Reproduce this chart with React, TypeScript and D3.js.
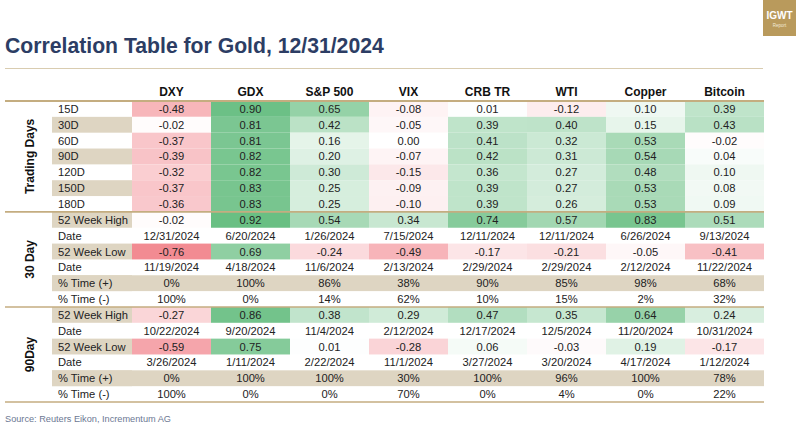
import React from "react";
import * as d3 from "d3";

const columns = ["DXY", "GDX", "S&P 500", "VIX", "CRB TR", "WTI", "Copper", "Bitcoin"];

const tradingDayLabels = ["15D", "30D", "60D", "90D", "120D", "150D", "180D"];
const tradingDayValues = [
  [-0.48, 0.9, 0.65, -0.08, 0.01, -0.12, 0.1, 0.39],
  [-0.02, 0.81, 0.42, -0.05, 0.39, 0.4, 0.15, 0.43],
  [-0.37, 0.81, 0.16, 0.0, 0.41, 0.32, 0.53, -0.02],
  [-0.39, 0.82, 0.2, -0.07, 0.42, 0.31, 0.54, 0.04],
  [-0.32, 0.82, 0.3, -0.15, 0.36, 0.27, 0.48, 0.1],
  [-0.37, 0.83, 0.25, -0.09, 0.39, 0.27, 0.53, 0.08],
  [-0.36, 0.83, 0.25, -0.1, 0.39, 0.26, 0.53, 0.09],
];

const d30High = [-0.02, 0.92, 0.54, 0.34, 0.74, 0.57, 0.83, 0.51];
const d30HighDate = ["12/31/2024", "6/20/2024", "1/26/2024", "7/15/2024", "12/11/2024", "12/11/2024", "6/26/2024", "9/13/2024"];
const d30Low = [-0.76, 0.69, -0.24, -0.49, -0.17, -0.21, -0.05, -0.41];
const d30LowDate = ["11/19/2024", "4/18/2024", "11/6/2024", "2/13/2024", "2/29/2024", "2/29/2024", "2/12/2024", "11/22/2024"];
const d30PosPct = [0, 100, 86, 38, 90, 85, 98, 68];
const d30NegPct = [100, 0, 14, 62, 10, 15, 2, 32];

const d90High = [-0.27, 0.86, 0.38, 0.29, 0.47, 0.35, 0.64, 0.24];
const d90HighDate = ["10/22/2024", "9/20/2024", "11/4/2024", "2/12/2024", "12/17/2024", "12/5/2024", "11/20/2024", "10/31/2024"];
const d90Low = [-0.59, 0.75, 0.01, -0.28, 0.06, -0.03, 0.19, -0.17];
const d90LowDate = ["3/26/2024", "1/11/2024", "2/22/2024", "11/1/2024", "3/27/2024", "3/20/2024", "4/17/2024", "1/12/2024"];
const d90PosPct = [0, 100, 100, 30, 100, 96, 100, 78];
const d90NegPct = [100, 0, 0, 70, 0, 4, 0, 22];

const sectionNames = ["Trading Days", "30 Day", "90Day"];

type Row = { label: string; cells: string[]; values?: number[]; tanLabel: boolean; tanRow: boolean };

const fmt = (v: number) => v.toFixed(2);
const pct = (v: number) => `${v}%`;

function windowRows(high: number[], highDate: string[], low: number[], lowDate: string[], pos: number[], neg: number[]): Row[] {
  return [
    { label: "52 Week High", cells: high.map(fmt), values: high, tanLabel: true, tanRow: false },
    { label: "Date", cells: highDate, tanLabel: false, tanRow: false },
    { label: "52 Week Low", cells: low.map(fmt), values: low, tanLabel: true, tanRow: false },
    { label: "Date", cells: lowDate, tanLabel: false, tanRow: false },
    { label: "% Time (+)", cells: pos.map(pct), tanLabel: true, tanRow: true },
    { label: "% Time (-)", cells: neg.map(pct), tanLabel: false, tanRow: false },
  ];
}

const sections: Row[][] = [
  tradingDayLabels.map((l, i) => ({
    label: l,
    cells: tradingDayValues[i].map(fmt),
    values: tradingDayValues[i],
    tanLabel: i % 2 === 1,
    tanRow: false,
  })),
  windowRows(d30High, d30HighDate, d30Low, d30LowDate, d30PosPct, d30NegPct),
  windowRows(d90High, d90HighDate, d90Low, d90LowDate, d90PosPct, d90NegPct),
];

const W = 800;
const H = 428;
const TAN = "#ded5c2";
const LINE = "#c4ad80";
const FONT = "'Liberation Sans', Arial, sans-serif";

export default function App() {
  const allRows = sections.flat();
  const x = d3.scaleBand<string>().domain(columns).range([132, 764]);
  const y = d3.scaleBand<number>().domain(d3.range(allRows.length)).range([101, 402]);
  const color = d3
    .scaleLinear<string>()
    .domain([-1, 0, 1])
    .range(["#ee6670", "#ffffff", "#5cb978"])
    .interpolate(d3.interpolateRgb);

  let start = 0;
  const sectionSpans = sections.map((s) => {
    const span = { start, end: start + s.length };
    start += s.length;
    return span;
  });

  const rowH = y.bandwidth();
  const labelX0 = 52;

  return (
    <svg width={W} height={H} style={{ position: "absolute", left: 0, top: 0, background: "#fff" }} fontFamily={FONT}>
      <rect x={0} y={0} width={W} height={H} fill="#fff" />
      {/* title */}
      <text x={5} y={53} fontSize={21.2} fontWeight="bold" fill="#2c3d64">
        Correlation Table for Gold, 12/31/2024
      </text>
      <line x1={5} x2={763} y1={68.5} y2={68.5} stroke="#d9ccb0" strokeWidth={1} />
      {/* logo */}
      <rect x={763} y={0} width={33} height={36} fill="#b99a5c" />
      <text x={779.5} y={19} fontSize={10} fontWeight="bold" fill="#fff" textAnchor="middle">IGWT</text>
      <text x={779.5} y={27} fontSize={4.5} fill="#f3ead8" textAnchor="middle">Report</text>

      {/* headers */}
      {columns.map((c) => (
        <text key={c} x={(x(c) as number) + x.bandwidth() / 2} y={96} fontSize={12} fontWeight="bold" fill="#111" textAnchor="middle">
          {c}
        </text>
      ))}

      {/* rows */}
      {allRows.map((r, i) => {
        const yy = y(i) as number;
        return (
          <g key={i}>
            {r.tanRow && <rect x={labelX0} y={yy} width={764 - labelX0} height={rowH} fill={TAN} />}
            {r.tanLabel && <rect x={labelX0} y={yy} width={132 - labelX0} height={rowH} fill={TAN} />}
            {r.values &&
              r.values.map((v, j) => (
                <rect key={j} x={x(columns[j]) as number} y={yy} width={x.bandwidth()} height={rowH} fill={color(v)} />
              ))}
            <text x={58} y={yy + rowH / 2 + 4} fontSize={11.2} fill="#222">
              {r.label}
            </text>
            {r.cells.map((c, j) => (
              <text key={j} x={(x(columns[j]) as number) + x.bandwidth() / 2} y={yy + rowH / 2 + 4} fontSize={11.2} fill="#222" textAnchor="middle">
                {c}
              </text>
            ))}
          </g>
        );
      })}

      {/* section labels */}
      {sectionSpans.map((s, k) => {
        const y0 = y(s.start) as number;
        const y1 = (y(s.end - 1) as number) + rowH;
        const cy = (y0 + y1) / 2;
        return (
          <text
            key={k}
            transform={`translate(34,${cy}) rotate(-90)`}
            fontSize={12}
            fontWeight="bold"
            fill="#111"
            textAnchor="middle"
          >
            {sectionNames[k]}
          </text>
        );
      })}
      {[101, ...sectionSpans.map((s) => (y(s.end - 1) as number) + rowH)].map((ly, i) => (
        <line key={i} x1={5} x2={764} y1={ly} y2={ly} stroke={LINE} strokeWidth={i === 0 ? 2.2 : 1.6} />
      ))}

      <text x={5} y={422} fontSize={9.2} fill="#6c7893">
        Source: Reuters Eikon, Incrementum AG
      </text>
    </svg>
  );
}
